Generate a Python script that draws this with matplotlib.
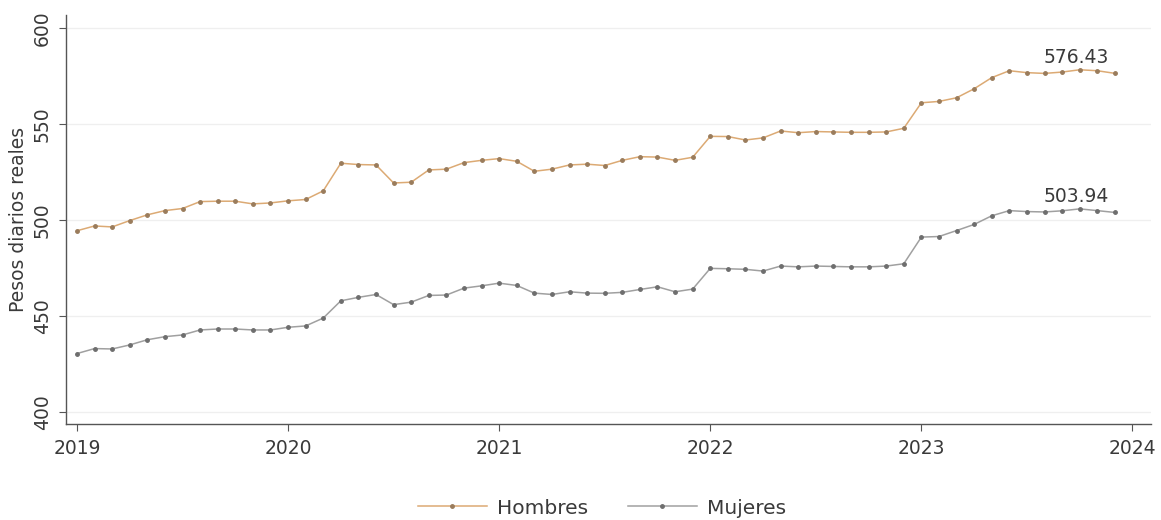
import numpy as np
import matplotlib
matplotlib.use("Agg")
import matplotlib.pyplot as plt

plt.rcParams['font.family'] = ['DejaVu Sans']

# monthly values, Jan 2019 - Dec 2023
years = [2019, 2020, 2021, 2022, 2023]
hombres = [494.4, 496.9, 496.4, 499.7, 502.7, 504.9, 506.0, 509.6, 509.8, 509.8, 508.4, 508.9,
           510.0, 510.7, 515.2, 529.6, 528.9, 528.7, 519.3, 519.7, 526.1, 526.5, 529.9, 531.1,
           532.0, 530.6, 525.4, 526.5, 528.7, 529.1, 528.4, 531.1, 533.0, 532.8, 531.1, 532.7,
           543.6, 543.5, 541.7, 542.8, 546.4, 545.5, 546.1, 545.9, 545.7, 545.7, 545.9, 547.8,
           561.1, 561.8, 563.7, 568.4, 574.2, 577.8, 576.8, 576.4, 577.1, 578.3, 577.8, 576.43]
mujeres = [430.4, 433.0, 432.8, 434.9, 437.6, 439.2, 440.1, 442.7, 443.2, 443.2, 442.7, 442.7,
           444.1, 444.8, 448.9, 457.9, 459.7, 461.2, 455.9, 457.2, 460.7, 460.9, 464.5, 465.7,
           467.1, 465.9, 461.9, 461.2, 462.6, 461.9, 461.8, 462.3, 463.8, 465.2, 462.6, 464.0,
           474.8, 474.6, 474.3, 473.4, 476.0, 475.6, 476.0, 475.8, 475.6, 475.6, 476.0, 477.2,
           491.1, 491.4, 494.5, 497.7, 502.2, 504.9, 504.4, 504.2, 504.8, 505.8, 504.9, 503.94]
year_ticks = [2019, 2020, 2021, 2022, 2023, 2024]
y_ticks = [400, 450, 500, 550, 600]

x = years[0] + np.arange(len(hombres)) / 12.0

fig = plt.figure(figsize=(11.61, 5.2), dpi=100)
ax = fig.add_axes([0.0568, 0.185, 0.935, 0.786])

c_h = '#dcaa74'
c_m = '#a0a0a0'
ax.plot(x, hombres, color=c_h, lw=1.1, marker='o', ms=2.5,
        mfc='#9a7c5c', mec='#9a7c5c', label='Hombres', zorder=3)
ax.plot(x, mujeres, color=c_m, lw=1.1, marker='o', ms=2.5,
        mfc='#6e6e6e', mec='#6e6e6e', label='Mujeres', zorder=3)

ax.text(2023.735, hombres[-1] + 8.4, f'{hombres[-1]:.2f}', ha='center', va='center',
        fontsize=13.5, color='#3a3a3a')
ax.text(2023.735, mujeres[-1] + 8.4, f'{mujeres[-1]:.2f}', ha='center', va='center',
        fontsize=13.5, color='#3a3a3a')

ax.set_xlim(2019 - 11 / 211, 2024 + 19 / 211)
ax.set_ylim(393.8, 606.8)
ax.set_xticks(year_ticks)
ax.set_yticks(y_ticks)
ax.set_yticklabels([str(v) for v in y_ticks], rotation=90, va='center')
ax.tick_params(axis='both', direction='out', length=5, color='#555555',
               labelsize=13.5, labelcolor='#3a3a3a')
ax.tick_params(axis='x', pad=6)
ax.tick_params(axis='y', pad=5)
ax.grid(axis='y', color='#efefef', lw=0.9)
ax.set_axisbelow(True)
for s in ['top', 'right']:
    ax.spines[s].set_visible(False)
for s in ['left', 'bottom']:
    ax.spines[s].set_color('#555555')
    ax.spines[s].set_linewidth(1.0)
ax.set_ylabel('Pesos diarios reales', fontsize=13.5, color='#3a3a3a', labelpad=4)

fig.legend(loc='center', ncol=2, frameon=False, fontsize=14.5,
           bbox_to_anchor=(602 / 1161, 1 - 508 / 520), handlelength=3.4,
           handletextpad=0.5, columnspacing=2.0, labelcolor='#3a3a3a')

fig.savefig('out.png', dpi=100, facecolor='white')
